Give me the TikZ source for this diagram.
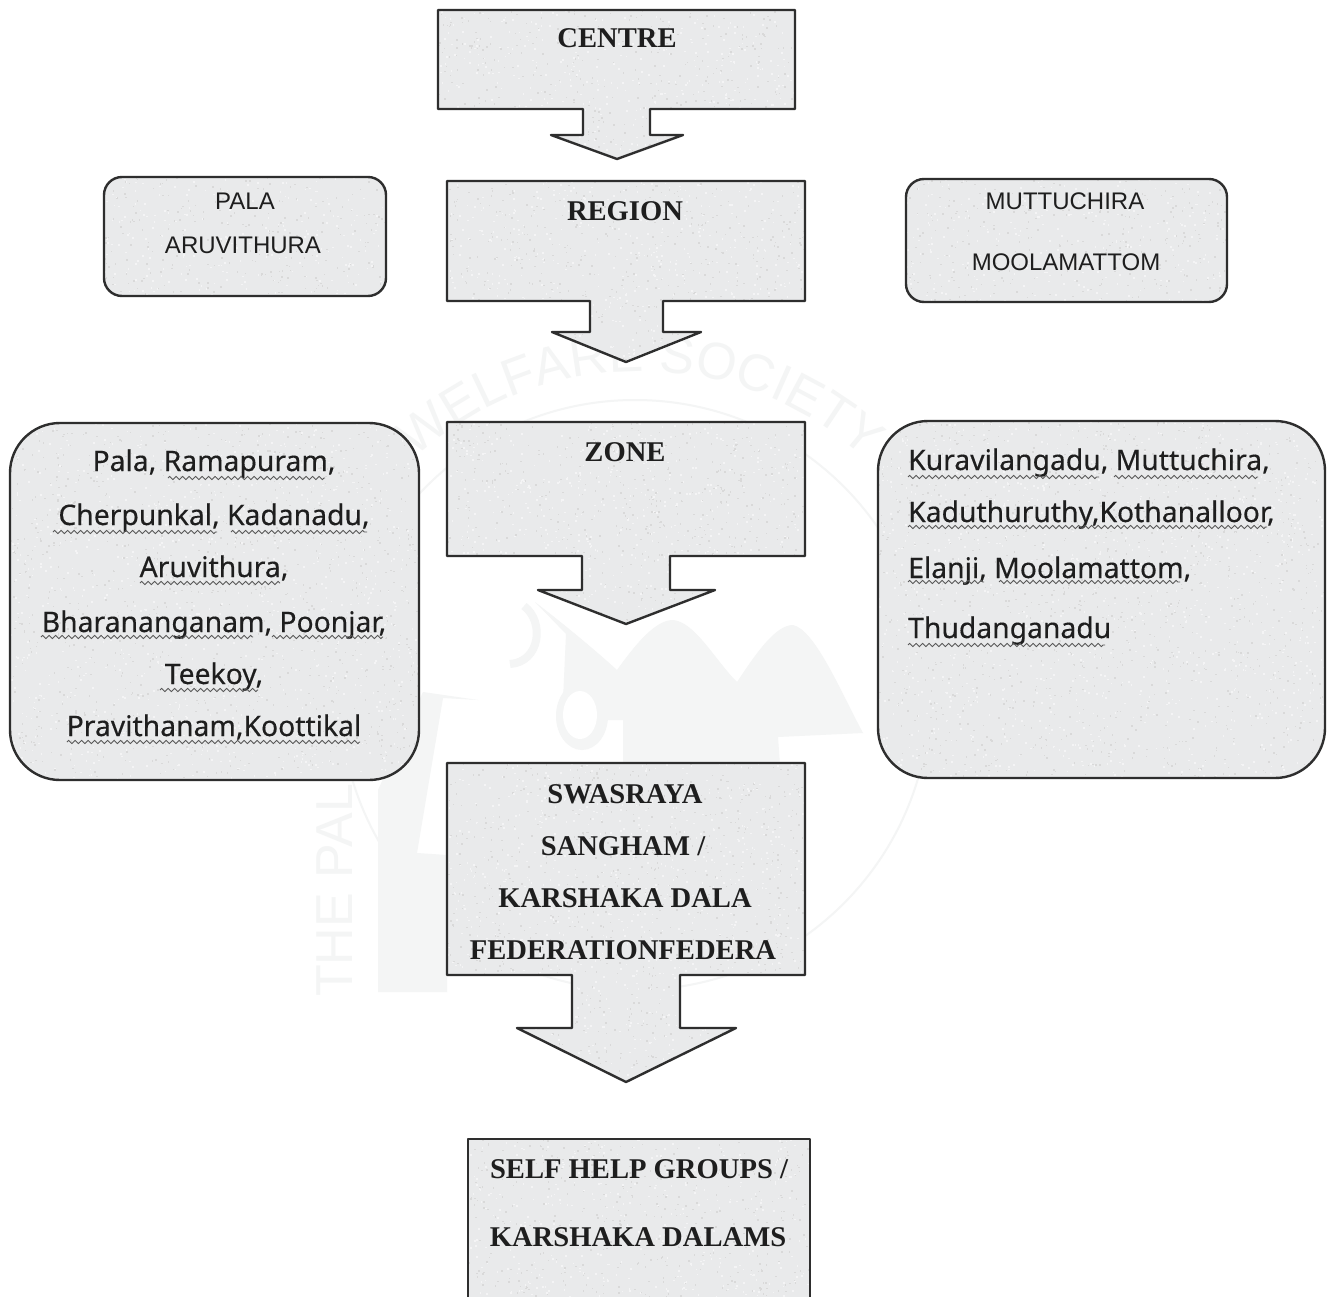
\documentclass[tikz,border=0pt]{standalone}
\usepackage{fontspec}
\setmainfont{Liberation Serif}
\newfontfamily\bodyfont[FakeBold=0.3]{Noto Sans}
\newfontfamily\capfont{Liberation Sans}
\usetikzlibrary{decorations.pathmorphing,decorations.text}
\definecolor{boxfill}{HTML}{E9EAEB}
\definecolor{edgecol}{HTML}{2E2E2E}
\definecolor{inkcol}{HTML}{1E1E1E}
\definecolor{markcol}{HTML}{F4F5F5}
\tikzset{
  x=1pt,y=-1pt,
  heading/.style={anchor=base,inner sep=0pt,text=inkcol,font=\fontsize{28.6}{34}\bfseries\selectfont},
  capsname/.style={anchor=base,inner sep=0pt,text=inkcol,font=\capfont\fontsize{24}{29}\selectfont},
  placename/.style={anchor=base,inner sep=0pt,text=inkcol,font=\bodyfont\fontsize{28.3}{33}\selectfont},
  placeleft/.style={placename,anchor=base west},
  outline/.style={draw=edgecol,line width=2.4pt,line join=round},
  wavy/.style={draw=black!65,line width=0.9pt,decorate,decoration={zigzag,segment length=6.5pt,amplitude=1.6pt}},
  speck/.style={fill=black!15},
  speckw/.style={fill=boxfill!50!white},
}
% #1 = path, #2..#5 = bounding box, #6 = number of dots
\newcommand{\grainedshape}[6]{%
  \fill[boxfill] #1;
  \begin{scope}
    \clip #1;
    \foreach \k in {1,...,#6}{
      \fill[speck] ({#2+rnd*(#4-#2)},{#3+rnd*(#5-#3)}) rectangle +(1.5,1.5);
      \fill[speckw] ({#2+rnd*(#4-#2)},{#3+rnd*(#5-#3)}) rectangle +(1.6,1.6);
    }
  \end{scope}
  \draw[outline] #1;
}
\begin{document}
\begin{tikzpicture}
\pgfmathsetseed{4711}
\useasboundingbox (0,0) rectangle (1327,1297);
\fill[white] (0,0) rectangle (1327,1297);
% watermark
\draw[markcol,line width=2pt] (635,695) circle (295);
\fill[markcol] (378,992) -- (378,790) -- (423,692) -- (478,700) -- (443,698) -- (417,853) -- (447,855) -- (447,992) -- cycle;
\fill[markcol] (535,602) .. controls (565,625) and (595,650) .. (617,670)
  .. controls (635,645) and (655,620) .. (673,620)
  .. controls (695,622) and (715,660) .. (737,682)
  .. controls (755,655) and (775,625) .. (793,625)
  .. controls (815,630) and (840,690) .. (863,733)
  -- (778,737) -- (780,765) -- (623,765) -- (623,720) -- (592,720) -- (563,700) -- (566,634) -- cycle;
\fill[markcol] (582,716) ellipse (26 and 34);
\fill[white] (580,715) ellipse (17 and 24);
\draw[markcol,line width=8pt] (524,606) .. controls (545,622) and (540,662) .. (510,664);
\path[decorate,decoration={text along path,text align=center,text={|\capfont\fontsize{52}{60}\selectfont\color{markcol}|WELFARE SOCIETY}}]
  (404,469) .. controls (534.5,338.5) and (745.5,338.5) .. (876,469);
\node[rotate=90,anchor=base west,inner sep=0pt,text=markcol,font=\capfont\fontsize{52}{60}\selectfont] (markleft) at (352,997) {THE PAL};
% stacked boxes with block arrows
\grainedshape{(438,10) -- (795,10) -- (795,109) -- (650,109) -- (650,135) -- (683,135) -- (617,159) -- (551,135) -- (583,135) -- (583,109) -- (438,109) -- cycle}{438}{10}{795}{159}{420}
\grainedshape{(447,181) -- (805,181) -- (805,301) -- (663,301) -- (663,332) -- (701,332) -- (626,362) -- (552,332) -- (590,332) -- (590,301) -- (447,301) -- cycle}{447}{181}{805}{362}{500}
\grainedshape{(447,422) -- (805,422) -- (805,556) -- (670,556) -- (670,590) -- (715,590) -- (626,624) -- (538,590) -- (582,590) -- (582,556) -- (447,556) -- cycle}{447}{422}{805}{624}{560}
\grainedshape{(447,763) -- (805,763) -- (805,975) -- (680,975) -- (680,1028) -- (736,1028) -- (626,1082) -- (517,1028) -- (572,1028) -- (572,975) -- (447,975) -- cycle}{447}{763}{805}{1082}{860}
\grainedshape{(468,1300) -- (468,1139) -- (810,1139) -- (810,1300)}{468}{1139}{810}{1300}{400}
% rounded boxes
\grainedshape{[rounded corners=18pt] (104,177) rectangle (386,296)}{104}{177}{386}{296}{240}
\grainedshape{[rounded corners=18pt] (906,179) rectangle (1227,302)}{906}{179}{1227}{302}{280}
\grainedshape{[rounded corners=50pt] (10,423) rectangle (419,780)}{10}{423}{419}{780}{1000}
\grainedshape{[rounded corners=50pt] (878,421) rectangle (1325,778)}{878}{421}{1325}{778}{1100}
% headings
\node[heading] (centre) at (617,48) {CENTRE};
\node[heading] (region) at (625,221) {REGION};
\node[heading] (zone) at (625,461) {ZONE};
\node[heading] (swa) at (625,803) {SWASRAYA};
\node[heading] (san) at (623,855) {SANGHAM /};
\node[heading] (kar) at (625,907) {KARSHAKA DALA};
\node[heading] (fed) at (623,959) {FEDERATIONFEDERA};
\node[heading] (shg) at (639,1178) {SELF HELP GROUPS /};
\node[heading] (kd) at (638,1246) {KARSHAKA DALAMS};
% upper rounded box text
\node[capsname] (pala) at (245,210) {PALA};
\node[capsname] (aruv) at (243,254) {ARUVITHURA};
\node[capsname] (mutt) at (1065,210) {MUTTUCHIRA};
\node[capsname] (mool) at (1066,271) {MOOLAMATTOM};
% left list
\node[placename] (l1) at (214,471) {Pala, Ramapuram,};
\node[placename] (l2) at (214,525) {Cherpunkal, Kadanadu,};
\node[placename] (l3) at (214,577) {Aruvithura,};
\node[placename] (l4) at (214,632) {Bharananganam, Poonjar,};
\node[placename] (l5) at (214,684) {Teekoy,};
\node[placename] (l6) at (214,736) {Pravithanam,Koottikal};
\draw[wavy] (168,478) -- (325,478);
\draw[wavy] (53,532) -- (217,532);
\draw[wavy] (231,532) -- (367,532);
\draw[wavy] (140,583) -- (280,583);
\draw[wavy] (41,637) -- (253,637);
\draw[wavy] (272,637) -- (383,637);
\draw[wavy] (160,690) -- (258,690);
\draw[wavy] (67,742) -- (360,742);
% right list
\node[placeleft] (r1) at (908,470) {Kuravilangadu, Muttuchira,};
\node[placeleft] (r2) at (908,522) {Kaduthuruthy,Kothanalloor,};
\node[placeleft] (r3) at (908,578) {Elanji, Moolamattom,};
\node[placeleft] (r4) at (908,638) {Thudanganadu};
\draw[wavy] (908,477) -- (1099,477);
\draw[wavy] (1114,477) -- (1258,477);
\draw[wavy] (908,527) -- (1267,527);
\draw[wavy] (908,582) -- (984,582);
\draw[wavy] (999,582) -- (1180,582);
\draw[wavy] (908,645) -- (1105,645);
\end{tikzpicture}
\end{document}
